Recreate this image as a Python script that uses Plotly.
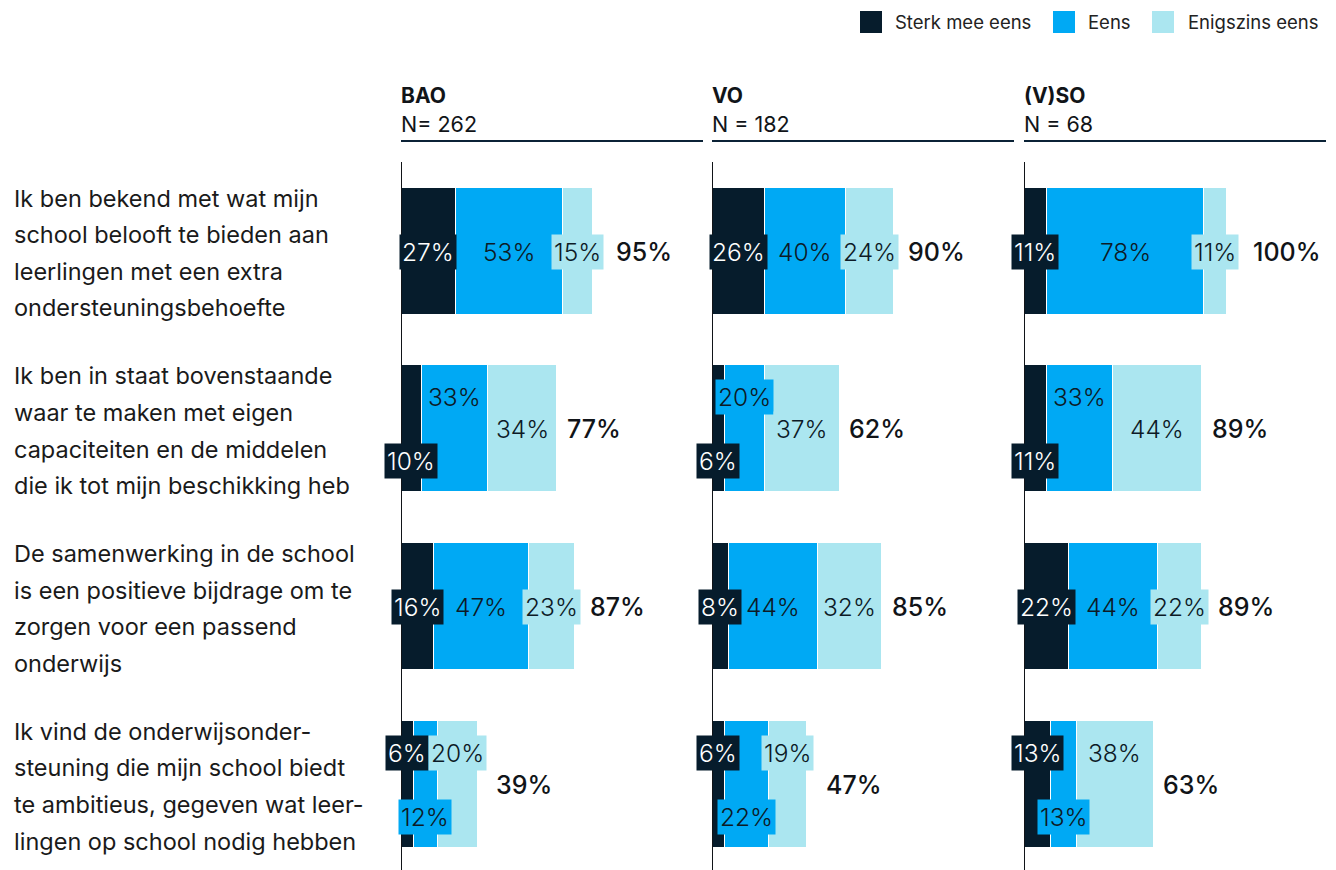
import plotly.graph_objects as go

# --- data -------------------------------------------------------------
questions = [
    "Ik ben bekend met wat mijn\nschool belooft te bieden aan\nleerlingen met een extra\nondersteuningsbehoefte",
    "Ik ben in staat bovenstaande\nwaar te maken met eigen\ncapaciteiten en de middelen\ndie ik tot mijn beschikking heb",
    "De samenwerking in de school\nis een positieve bijdrage om te\nzorgen voor een passend\nonderwijs",
    "Ik vind de onderwijsonder-\nsteuning die mijn school biedt\nte ambitieus, gegeven wat leer-\nlingen op school nodig hebben",
]
groups = ["BAO", "VO", "(V)SO"]
group_n = ["N= 262", "N = 182", "N = 68"]
series = ["Sterk mee eens", "Eens", "Enigszins eens"]

bao_sterk = [27, 10, 16, 6]
bao_eens = [53, 33, 47, 12]
bao_enig = [15, 34, 23, 20]
bao_total = [95, 77, 87, 39]

vo_sterk = [26, 6, 8, 6]
vo_eens = [40, 20, 44, 22]
vo_enig = [24, 37, 32, 19]
vo_total = [90, 62, 85, 47]

vso_sterk = [11, 11, 22, 13]
vso_eens = [78, 33, 44, 13]
vso_enig = [11, 44, 22, 38]
vso_total = [100, 89, 89, 63]

panels = [
    (bao_sterk, bao_eens, bao_enig, bao_total),
    (vo_sterk, vo_eens, vo_enig, vo_total),
    (vso_sterk, vso_eens, vso_enig, vso_total),
]

# --- style ------------------------------------------------------------
PAGE_OFF = 8          # default body margin of the html page
W, H = 1336 - PAGE_OFF, 870 - PAGE_OFF
COLORS = ["#061c2c", "#00a9f4", "#abe6f0"]
TEXT_COLORS = ["#ffffff", "#0d1a26", "#0d1a26"]
FONT = "Inter"
INK = "#111418"

# where each segment label sits: m = middle, t = above, b = below
label_pos = [
    ["m", "m", "m"],
    ["b", "t", "m"],
    ["m", "m", "m"],
    ["t", "b", "t"],
]
SHIFT = {"m": -1, "t": 31, "b": -33}

# pixel geometry (in window pixels)
panel_px = [(401, 703), (712, 1014), (1024, 1326)]
PX_PER_PCT = 2.02
row_c0, row_pitch = 250.5 - PAGE_OFF, 177.7
bar_h = 127


def px(x):
    return (x - PAGE_OFF) / W


def py(y):
    return 1 - (y - PAGE_OFF) / H


fig = go.Figure()

y_top = -row_c0 / row_pitch
y_bot = (H - row_c0) / row_pitch
axis_names = ["x", "x2", "x3"]

for p, (vals_s, vals_e, vals_g, totals) in enumerate(panels):
    xa = axis_names[p]
    for s, vals in enumerate((vals_s, vals_e, vals_g)):
        fig.add_trace(go.Bar(
            orientation="h",
            y=questions,
            x=vals,
            xaxis=xa,
            yaxis="y",
            name=series[s],
            marker=dict(color=COLORS[s], line=dict(color="white", width=1)),
            width=bar_h / row_pitch,
            showlegend=False,
            hoverinfo="skip",
        ))

    x0, x1 = panel_px[p]
    rng = (x1 - x0) / PX_PER_PCT
    key = "xaxis" if p == 0 else "xaxis%d" % (p + 1)
    fig.layout[key] = dict(
        domain=[px(x0), px(x1)], range=[0, rng], visible=False,
        fixedrange=True, anchor="y",
    )

    # vertical base line
    fig.add_shape(type="line", xref=xa, yref="paper", x0=0, x1=0,
                  y0=0, y1=py(162), line=dict(color=INK, width=2))
    # header rule
    fig.add_shape(type="line", xref="paper", yref="paper",
                  x0=px(x0), x1=px(x1), y0=py(141), y1=py(141),
                  line=dict(color="#0b2236", width=2))
    fig.add_annotation(xref="paper", yref="paper", x=px(x0 - 2), y=py(96),
                       text="<b>%s</b>" % groups[p], showarrow=False,
                       xanchor="left", yanchor="middle",
                       font=dict(family=FONT, size=21, color=INK))
    fig.add_annotation(xref="paper", yref="paper", x=px(x0 - 2), y=py(124),
                       text=group_n[p], showarrow=False,
                       xanchor="left", yanchor="middle",
                       font=dict(family=FONT, size=21.5, color=INK))

    # segment labels and totals
    for r, q in enumerate(questions):
        start = 0
        seg = (vals_s[r], vals_e[r], vals_g[r])
        box_end = 0
        for s, v in enumerate(seg):
            c = start + v / 2
            fig.add_annotation(
                x=c, y=q, xref=xa, yref="y", text="%d%%" % v,
                showarrow=False, yshift=SHIFT[label_pos[r][s]],
                bgcolor=COLORS[s], borderpad=2,
                font=dict(family=FONT, size=24.5, color=TEXT_COLORS[s],
                          weight=300),
            )
            start += v
            box_end = max(start, c + 14)
        fig.add_annotation(
            x=box_end + 4, y=q, xref=xa, yref="y",
            text="%d%%" % totals[r], showarrow=False, xanchor="left",
            yshift=-1,
            font=dict(family=FONT, size=25, color=INK, weight=500),
        )

# question texts, one annotation per line for the wide line spacing
for r, q in enumerate(questions):
    lines = q.split("\n")
    for j, line in enumerate(lines):
        fig.add_annotation(
            xref="paper", y=q, yref="y", x=px(12), text=line,
            showarrow=False, xanchor="left", yanchor="middle",
            yshift=-((j - (len(lines) - 1) / 2) * 36.6 + 2.5),
            font=dict(family=FONT, size=23.5, color="#1a1a1a"),
        )

# legend, drawn by hand for the larger swatches
legend_px = [(860, 893), (1053, 1086), (1152, 1186)]
for s, (sx, tx) in enumerate(legend_px):
    fig.add_shape(type="rect", xref="paper", yref="paper",
                  x0=px(sx), x1=px(sx + 22), y0=py(11), y1=py(33),
                  fillcolor=COLORS[s], line=dict(width=0))
    fig.add_annotation(xref="paper", yref="paper", x=px(tx), y=py(22),
                       text=series[s], showarrow=False,
                       xanchor="left", yanchor="middle",
                       font=dict(family=FONT, size=18.5, color="#222"))

fig.update_layout(
    width=W, height=H,
    margin=dict(l=0, r=0, t=0, b=0),
    plot_bgcolor="white", paper_bgcolor="white",
    barmode="stack",
    yaxis=dict(domain=[0, 1], range=[y_bot, y_top], visible=False,
               categoryorder="array", categoryarray=questions,
               fixedrange=True),
    showlegend=False,
)

fig.write_html("out.html")
